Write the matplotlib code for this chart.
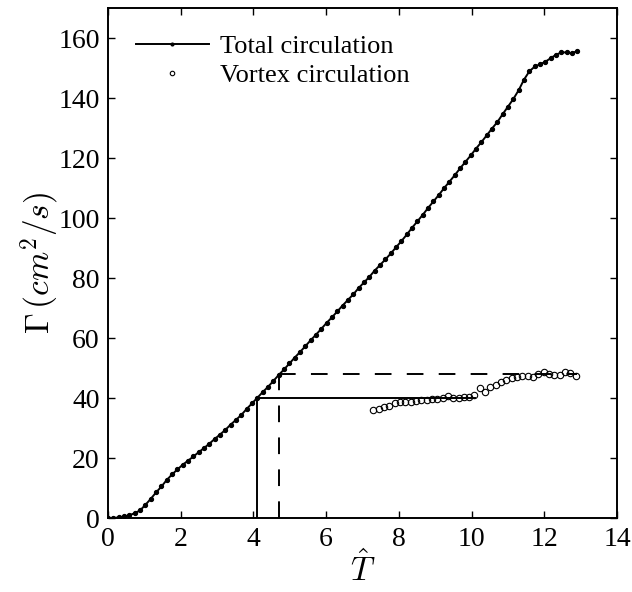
import matplotlib
matplotlib.use("Agg")
import matplotlib.pyplot as plt
from matplotlib.ticker import MultipleLocator

plt.rcParams['font.family'] = ['Liberation Serif', 'DejaVu Serif']
plt.rcParams['mathtext.fontset'] = 'cm'
plt.rcParams['lines.scale_dashes'] = False

# Total circulation (T_hat, Gamma)
t_total = [0.00, 0.15, 0.29, 0.44, 0.59, 0.73, 0.88, 1.03, 1.17, 1.32,
           1.47, 1.61, 1.76, 1.91, 2.05, 2.20, 2.35, 2.49, 2.64, 2.79,
           2.93, 3.08, 3.23, 3.37, 3.52, 3.67, 3.81, 3.96, 4.11, 4.25,
           4.40, 4.55, 4.69, 4.84, 4.99, 5.13, 5.28, 5.43, 5.57, 5.72,
           5.87, 6.01, 6.16, 6.31, 6.45, 6.60, 6.75, 6.89, 7.04, 7.19,
           7.33, 7.48, 7.63, 7.78, 7.92, 8.07, 8.22, 8.36, 8.51, 8.66,
           8.80, 8.95, 9.10, 9.24, 9.39, 9.54, 9.68, 9.83, 9.98, 10.12,
           10.27, 10.42, 10.56, 10.71, 10.86, 11.00, 11.15, 11.30, 11.44, 11.59,
           11.74, 11.88, 12.03, 12.18, 12.32, 12.47, 12.62, 12.76, 12.91]
g_total = [0.0, 0.1, 0.3, 0.6, 1.0, 1.7, 2.6, 4.5, 6.4, 8.6,
           10.6, 12.7, 14.6, 16.3, 17.8, 19.2, 20.6, 22.0, 23.4, 24.9,
           26.4, 27.9, 29.5, 31.2, 32.8, 34.5, 36.4, 38.3, 40.2, 42.0,
           43.8, 45.8, 47.7, 49.6, 51.6, 53.5, 55.4, 57.4, 59.3, 61.2,
           63.2, 65.1, 67.0, 69.0, 70.9, 72.8, 74.7, 76.7, 78.6, 80.5,
           82.5, 84.4, 86.3, 88.3, 90.3, 92.4, 94.6, 96.8, 99.0, 101.2,
           103.4, 105.6, 107.8, 110.0, 112.2, 114.4, 116.6, 118.8, 121.0, 123.2,
           125.4, 127.7, 129.9, 132.1, 134.8, 137.2, 139.8, 142.8, 146.2, 149.0,
           150.6, 151.3, 152.2, 153.4, 154.5, 155.3, 155.3, 155.0, 155.8]

# Vortex circulation
t_vortex = [7.29, 7.44, 7.58, 7.73, 7.88, 8.02, 8.17, 8.32, 8.46, 8.61,
            8.76, 8.90, 9.05, 9.20, 9.34, 9.49, 9.64, 9.78, 9.93, 10.08,
            10.22, 10.37, 10.52, 10.66, 10.81, 10.96, 11.10, 11.25, 11.40, 11.54,
            11.69, 11.84, 11.98, 12.13, 12.28, 12.42, 12.57, 12.72, 12.86]
g_vortex = [36.1, 36.4, 37.0, 37.5, 38.5, 38.6, 38.7, 38.8, 39.1, 39.3,
            39.5, 39.6, 39.8, 40.2, 40.8, 40.2, 40.2, 40.5, 40.3, 41.1,
            43.3, 42.0, 43.9, 44.4, 45.3, 46.1, 46.8, 47.2, 47.5, 47.5,
            47.2, 48.1, 48.9, 48.1, 47.8, 47.8, 48.9, 48.3, 47.4]

# Reference lines: (T at pinch-off, Gamma level, end of horizontal line)
t_solid, g_solid, t_solid_end = 4.10, 40.0, 10.1
t_dash, g_dash, t_dash_end = 4.70, 48.0, 12.9

fig = plt.figure(figsize=(6.32, 5.92), dpi=100)
ax = fig.add_axes([0.1709, 0.1245, 0.8054, 0.8615])

ax.plot(t_total, g_total, '-', color='black', lw=1.4, marker='o', ms=2.8,
        mfc='black', mec='black', label='Total circulation')
ax.plot(t_vortex, g_vortex, 'o', color='black', ms=4.6, mfc='none', mew=0.8,
        ls='none', label='Vortex circulation')

ax.plot([t_solid, t_solid], [0, g_solid], '-', color='black', lw=1.4)
ax.plot([t_solid, t_solid_end], [g_solid, g_solid], '-', color='black', lw=1.4)
ax.plot([t_dash, t_dash], [0, g_dash], color='black', lw=1.4, dashes=(12, 11))
ax.plot([t_dash, t_dash_end], [g_dash, g_dash], color='black', lw=1.4, dashes=(12, 11))

ax.set_xlim(0, 14)
ax.set_ylim(0, 170)
ax.xaxis.set_major_locator(MultipleLocator(2))
ax.yaxis.set_major_locator(MultipleLocator(20))
ax.tick_params(direction='in', top=True, right=True, length=5, width=1,
               labelsize=20, pad=6)
for s in ax.spines.values():
    s.set_linewidth(1.4)

ax.set_xlabel(r'$\hat{T}$', fontsize=24, labelpad=0)
ax.set_ylabel(r'$\Gamma\,(cm^2/s)$', fontsize=24, labelpad=-3)

leg = ax.legend(loc='upper left', frameon=False, fontsize=19,
                handlelength=2.75, handletextpad=0.45, borderaxespad=0.0,
                labelspacing=0.2, markerscale=0.7, borderpad=0.0,
                bbox_to_anchor=(0.055, 0.948))

fig.savefig('out.png', dpi=100)
